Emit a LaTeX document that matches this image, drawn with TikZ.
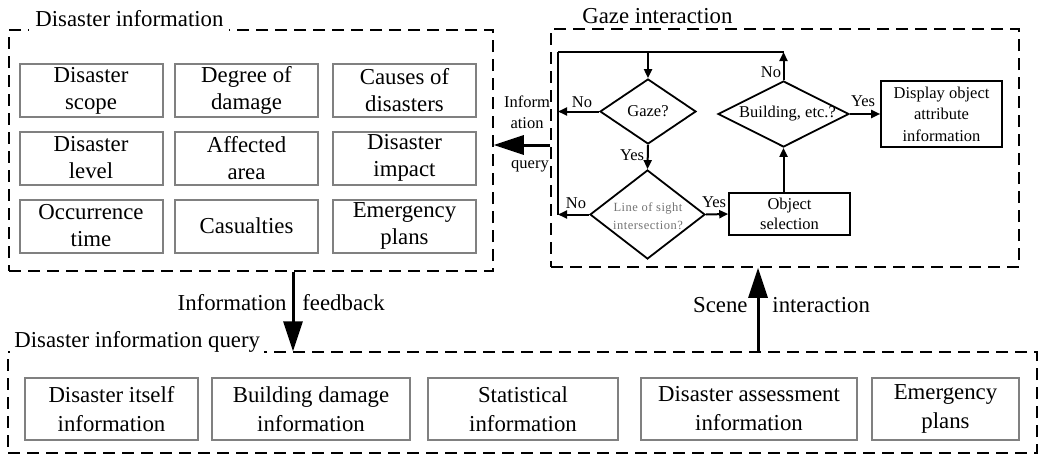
\documentclass[tikz,border=0pt]{standalone}
\usepackage{fontspec}
\setmainfont{Liberation Serif}
\usetikzlibrary{shapes.geometric,arrows.meta}
\tikzstyle{grupo}=[draw,dash pattern=on 12pt off 7pt,line width=1.5pt,inner sep=0pt]
\tikzstyle{titulo}=[fill=white,inner xsep=6pt,inner ysep=5pt,anchor=base west,font=\fontsize{22.8}{27}\selectfont]
\tikzstyle{cajagris}=[draw=black!50,line width=2pt,minimum width=143pt,minimum height=53pt,align=center,inner sep=0pt,font=\fontsize{22.8}{27}\selectfont]
\tikzstyle{cajabaja}=[cajagris,minimum height=62pt,font=\fontsize{22.8}{29}\selectfont]
\tikzstyle{caja}=[draw,line width=1.6pt,minimum width=121pt,align=center,inner sep=0pt,font=\fontsize{16.5}{20.5}\selectfont]
\tikzstyle{rombo}=[draw,diamond,line width=1.8pt,inner sep=0pt]
\tikzstyle{texto}=[inner sep=0pt,align=center,font=\fontsize{16.5}{21}\selectfont]
\tikzstyle{grande}=[inner sep=0pt,font=\fontsize{22.8}{27}\selectfont]
\tikzstyle{linea}=[line width=2pt]
\tikzstyle{flecha}=[line width=2pt,-{Triangle[length=9pt,width=8pt]}]
\tikzstyle{flechagrande}=[line width=3pt,-{Triangle[length=30pt,width=19pt]}]
\begin{document}
\begin{tikzpicture}[x=1pt,y=-1pt,thick]
    \useasboundingbox (0,0) rectangle (1064,455);
    \node [grupo, minimum width=484pt, minimum height=241pt] (info) at (251,150.5) {};
    \node [grupo, minimum width=468pt, minimum height=238pt] (gazebox) at (785,148) {};
    \node [grupo, minimum width=1029pt, minimum height=101pt] (query) at (522.5,402.5) {};
    \node [titulo] (tinfo) at (29,27) {Disaster information};
    \node [titulo, inner xsep=20pt] (tgazebox) at (562,23) {Gaze interaction};
    \node [titulo, inner xsep=4pt] (tquery) at (10,347) {Disaster information query};

    \node [cajagris] (scope) at (91,90.5) {Disaster\\scope};
    \node [cajagris] (damage) at (246.5,90.5) {Degree of\\damage};
    \node [cajagris] (causes) at (404.5,90.5) {Causes of\\disasters};
    \node [cajagris] (level) at (91,158) {Disaster\\level};
    \node [cajagris] (area) at (246.5,158) {Affected\\area};
    \node [cajagris] (impact) at (404.5,158) {Disaster\\impact};
    \node [cajagris] (time) at (91,226) {Occurrence\\time};
    \node [cajagris] (casualties) at (246.5,226) {Casualties};
    \node [cajagris] (plans) at (404.5,226) {Emergency\\plans};

    \node [cajabaja, minimum width=173pt] (itself) at (111.5,409) {Disaster itself\\information};
    \node [cajabaja, minimum width=198pt] (building) at (311,409) {Building damage\\information};
    \node [cajabaja, minimum width=190pt] (stats) at (523,409) {Statistical\\information};
    \node [cajabaja, minimum width=216pt] (assess) at (749,409) {Disaster assessment\\information};
    \node [cajabaja, minimum width=147pt] (plansq) at (945.5,409) {Emergency\\plans};

    \coordinate (lazo) at (558,52);
    \node [rombo, minimum width=96pt, minimum height=65pt] (gaze) at (648,111.5) {};
    \node [texto] (tgaze) at (gaze.center) {Gaze?};
    \node [rombo, minimum width=115pt, minimum height=89pt] (los) at (647.5,214.5) {};
    \node [texto, text=black!55, font=\fontsize{12.5}{18}\selectfont\addfontfeature{LetterSpace=4}] (tlos) at (648,216) {Line of sight\\intersection?};
    \node [caja, minimum height=42pt] (objsel) at (789.5,214) {Object\\selection};
    \node [rombo, minimum width=131pt, minimum height=66pt] (bld) at (783.5,114) {};
    \node [texto] (tbld) at ([xshift=4pt]bld.center) {Building, etc.?};
    \node [caja, minimum height=66pt, font=\fontsize{16.5}{21.5}\selectfont] (disp) at (941.5,114) {Display object\\attribute\\information};

    \draw [linea] (lazo) -- (lazo |- los.west);
    \draw [linea] (lazo) -- (lazo -| bld.north);
    \draw [flecha] (lazo -| gaze.north) -- (gaze.north);
    \draw [flecha] (gaze.west) -- (gaze.west -| lazo);
    \draw [flecha] (gaze.south) -- (los.north);
    \draw [flecha] (los.west) -- (los.west -| lazo);
    \draw [flecha] (los.east) -- (objsel.west);
    \draw [flecha] (bld.south |- objsel.north) -- (bld.south);
    \draw [flecha] (bld.north) -- (lazo -| bld.north);
    \draw [flecha] (bld.east) -- (disp.west);
    \node [texto] (no1) at (582,102) {No};
    \node [texto] (yes1) at (632,155) {Yes};
    \node [texto] (no2) at (576,203) {No};
    \node [texto] (yes2) at (714,202) {Yes};
    \node [texto] (no3) at (771,72) {No};
    \node [texto] (yes3) at (863,101) {Yes};

    \draw [flechagrande] ([yshift=3pt]gazebox.west) -- ([yshift=3pt]gazebox.west -| info.east);
    \node [texto] (tinfq) at (527,112.5) {Inform\\ation};
    \node [texto] (tqry) at (530,166) {query};
    \draw [flechagrande] ([xshift=42pt]info.south) -- ([xshift=42pt]info.south |- query.north);
    \node [grande, anchor=east] (tfb1) at (287,303) {Information};
    \node [grande, anchor=west] (tfb2) at (302,303) {feedback};
    \draw [flechagrande] ([xshift=-27pt]gazebox.south |- query.north) -- ([xshift=-27pt]gazebox.south);
    \node [grande, anchor=east] (tsc1) at (748,305) {Scene};
    \node [grande, anchor=west] (tsc2) at (772,305) {interaction};
\end{tikzpicture}
\end{document}
